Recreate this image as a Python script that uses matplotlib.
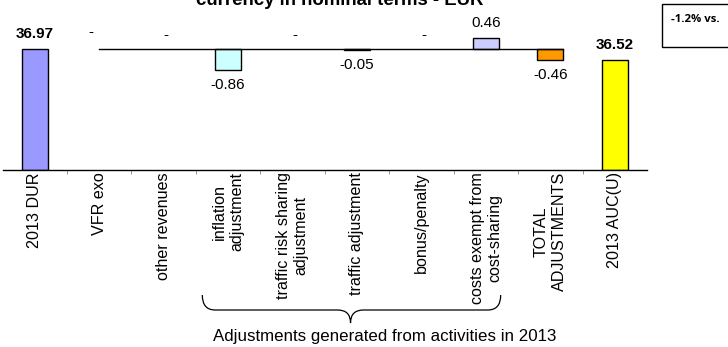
import numpy as np
import matplotlib.pyplot as plt
from matplotlib.path import Path
from matplotlib.patches import PathPatch, Rectangle
from matplotlib.transforms import blended_transform_factory

plt.rcParams['font.family'] = ['Liberation Sans', 'DejaVu Sans']

categories = ['2013 DUR', 'VFR exo', 'other revenues', 'inflation\nadjustment',
              'traffic risk sharing\nadjustment', 'traffic adjustment', 'bonus/penalty',
              'costs exempt from\ncost-sharing', 'TOTAL\nADJUSTMENTS', '2013 AUC(U)']
values = [36.97, 0.0, 0.0, -0.86, 0.0, -0.05, 0.0, 0.46, -0.46, 36.52]
is_total = [True, False, False, False, False, False, False, False, False, True]
colors = ['#9999FF', '#FFFFFF', '#FFFFFF', '#CCFFFF', '#FFFFFF', '#CCFFCC',
          '#FFFFFF', '#CCCCFF', '#FF9900', '#FFFF00']
ymin = 32.0
base = values[0]

W, H = 728, 347
fig = plt.figure(figsize=(W / 100, H / 100), dpi=100)
ax = fig.add_axes([2.5 / W, 1 - 170 / H, 644.5 / W, 150 / H])

x = np.arange(len(categories))
for i, v in enumerate(values):
    if is_total[i]:
        ax.bar(i, v - ymin, bottom=ymin, width=0.4, color=colors[i],
               edgecolor='black', linewidth=1)
        ax.annotate(f'{v:.2f}', (i, v), xytext=(0, 15), textcoords='offset pixels',
                    ha='center', va='center', fontsize=11, fontweight='bold')
    elif v != 0:
        ax.bar(i, v, bottom=base, width=0.4, color=colors[i],
               edgecolor='black', linewidth=1)
        off = 15 if v > 0 else -15
        ax.annotate(f'{v:.2f}', (i, base + v), xytext=(0, off), textcoords='offset pixels',
                    ha='center', va='center', fontsize=11)
    else:
        dx, dy = (-8, 17) if i == 1 else (2, 14)
        ax.annotate('-', (i, base), xytext=(dx, dy), textcoords='offset pixels',
                    ha='center', va='center', fontsize=11)

# reference line the adjustments hang from
ax.plot([1, 8.2], [base, base], color='black', linewidth=1, zorder=1)

ax.set_xlim(-0.5, 9.5)
ax.set_ylim(ymin, base + 29 / 24.4)
for s in ['left', 'right', 'top']:
    ax.spines[s].set_visible(False)
ax.spines['bottom'].set_linewidth(1)
ax.set_yticks([])
ax.set_xticks(x)
ax.set_xticklabels(categories, rotation=90, ha='center', va='top',
                   multialignment='center', fontsize=11.6)
ax.tick_params(axis='x', which='major', length=0, pad=1.5)
ax.set_xticks(np.arange(0.5, 9.5, 1), minor=True)
ax.tick_params(axis='x', which='minor', length=3, color='#888888')

# brace under the activity adjustments
tr = blended_transform_factory(ax.transData, fig.transFigure)
x0, x1, xc = 2.6, 7.23, 4.9
yt, ym, yb = 1 - 295 / H, 1 - 310 / H, 1 - 323 / H
r = 0.2
verts = [(x0, yt), (x0, ym), (x0 + r, ym), (xc - r, ym), (xc, ym), (xc, yb),
         (xc, ym), (xc + r, ym), (x1 - r, ym), (x1, ym), (x1, yt)]
codes = [Path.MOVETO, Path.CURVE3, Path.CURVE3, Path.LINETO, Path.CURVE3, Path.CURVE3,
         Path.CURVE3, Path.CURVE3, Path.LINETO, Path.CURVE3, Path.CURVE3]
ax.add_patch(PathPatch(Path(verts, codes), transform=tr, facecolor='none',
                       edgecolor='black', linewidth=0.9, clip_on=False))
fig.text(385 / W, 1 - 336 / H, 'Adjustments generated from activities in 2013',
         ha='center', va='center', fontsize=12.2)

fig.text(340 / W, 1 - 5 / H, 'currency in nominal terms - EUR', ha='center',
         va='baseline', fontsize=13.4, fontweight='bold')

fig.patches.append(Rectangle((662 / W, 1 - 47 / H), 80 / W, 43 / H, transform=fig.transFigure,
                             facecolor='white', edgecolor='black', linewidth=1))
fig.text(671 / W, 1 - 20 / H, '-1.2% vs.', ha='left', va='center', fontsize=8.2,
         fontweight='bold', family=['Open Sans', 'DejaVu Sans'])

fig.savefig('out.png', dpi=100)
